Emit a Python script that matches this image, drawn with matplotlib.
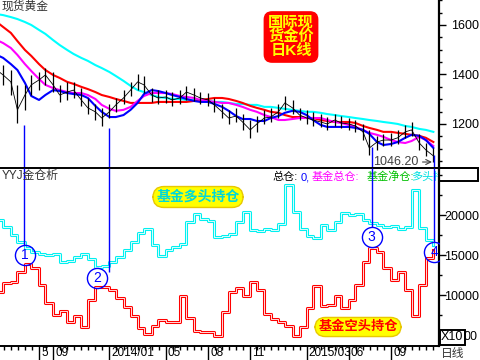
#!/usr/bin/env python

import numpy as np
import pandas as pd
from matplotlib import pyplot as pl
from matplotlib import transforms
from matplotlib.patches import Rectangle

pl.rcParams['font.family'] = ['Liberation Sans', 'Noto Sans CJK SC', 'DejaVu Sans']

W, H = 480, 360

# semi-monthly samples (1st and 15th)
dates = pd.date_range('2013-05-01', '2015-12-01', freq='SMS')

price_close = [1418, 1398, 1370, 1257, 1317, 1358, 1378, 1398, 1358, 1317,
               1329, 1337, 1297, 1265, 1249, 1224, 1249, 1277, 1305, 1337,
               1370, 1358, 1317, 1305, 1309, 1297, 1305, 1329, 1317, 1305,
               1297, 1277, 1249, 1224, 1232, 1208, 1176, 1200, 1224, 1228,
               1249, 1285, 1265, 1236, 1224, 1216, 1208, 1200, 1216, 1204,
               1200, 1192, 1168, 1103, 1127, 1135, 1135, 1144, 1168, 1176,
               1123, 1095, 1071]
price_high = [1448.8, 1438, 1418, 1358, 1358, 1398, 1410, 1426, 1410, 1358,
              1370, 1370, 1345, 1305, 1281, 1265, 1281, 1305, 1337, 1370,
              1402, 1394, 1345, 1337, 1337, 1329, 1337, 1354, 1345, 1329,
              1325, 1305, 1281, 1257, 1265, 1240, 1216, 1232, 1257, 1265,
              1281, 1313, 1297, 1265, 1257, 1249, 1240, 1228, 1240, 1232,
              1224, 1216, 1200, 1176, 1152, 1160, 1164, 1176, 1196, 1208,
              1160, 1123, 1103]
price_low = [1386, 1358, 1317, 1204, 1257, 1317, 1337, 1358, 1329, 1289,
             1297, 1305, 1273, 1240, 1216, 1192, 1224, 1249, 1281, 1313,
             1337, 1325, 1289, 1281, 1285, 1273, 1281, 1297, 1293, 1281,
             1273, 1249, 1224, 1200, 1208, 1176, 1144, 1168, 1200, 1208,
             1224, 1257, 1240, 1216, 1200, 1192, 1188, 1176, 1192, 1184,
             1176, 1168, 1135, 1075, 1095, 1111, 1111, 1119, 1144, 1152,
             1095, 1071, 1046.2]

ma_blue = [1479, 1467, 1442, 1418, 1366, 1313, 1297, 1317, 1337, 1333,
           1325, 1321, 1317, 1305, 1273, 1249, 1228, 1228, 1236, 1257,
           1285, 1321, 1337, 1333, 1325, 1317, 1309, 1301, 1293, 1289,
           1289, 1281, 1269, 1253, 1232, 1220, 1220, 1212, 1212, 1224,
           1232, 1245, 1253, 1249, 1236, 1216, 1196, 1188, 1188, 1188,
           1188, 1184, 1176, 1160, 1127, 1115, 1119, 1127, 1144, 1156,
           1152, 1135, 1103]
ma_magenta = [1539, 1527, 1507, 1479, 1442, 1414, 1382, 1358, 1345, 1337,
              1329, 1325, 1325, 1317, 1301, 1277, 1261, 1253, 1257, 1269,
              1293, 1313, 1325, 1325, 1325, 1321, 1313, 1309, 1305, 1297,
              1293, 1289, 1285, 1285, 1277, 1269, 1257, 1249, 1236, 1228,
              1216, 1216, 1220, 1224, 1224, 1224, 1224, 1216, 1208, 1204,
              1196, 1188, 1176, 1164, 1156, 1148, 1135, 1127, 1123, 1131,
              1148, 1135, 1111]
ma_red = [1612, 1592, 1568, 1535, 1499, 1475, 1442, 1418, 1398, 1386,
          1370, 1362, 1350, 1341, 1329, 1317, 1309, 1301, 1293, 1285,
          1285, 1285, 1285, 1289, 1289, 1289, 1289, 1289, 1293, 1297,
          1301, 1305, 1305, 1301, 1293, 1285, 1273, 1265, 1257, 1249,
          1245, 1236, 1228, 1228, 1224, 1224, 1216, 1212, 1208, 1208,
          1208, 1204, 1192, 1184, 1176, 1168, 1168, 1164, 1160, 1156,
          1152, 1144, 1127]
ma_cyan = [1644, 1640, 1632, 1624, 1612, 1600, 1580, 1564, 1539, 1519,
           1499, 1483, 1467, 1455, 1438, 1426, 1410, 1394, 1374, 1354,
           1337, 1329, 1317, 1309, 1305, 1301, 1301, 1297, 1297, 1293,
           1293, 1289, 1289, 1285, 1281, 1281, 1277, 1277, 1269, 1269,
           1265, 1261, 1257, 1253, 1249, 1249, 1245, 1240, 1236, 1232,
           1228, 1224, 1220, 1216, 1212, 1208, 1204, 1200, 1192, 1188,
           1180, 1176, 1168]

fund_long = [19400, 18500, 17500, 16600, 15900, 15400, 15100, 15000, 15100, 14100,
             14300, 14800, 15100, 14500, 13500, 13600, 14100, 14800, 15600, 16600,
             17800, 18300, 16300, 14900, 15600, 16000, 16400, 19100, 20100, 19500,
             19300, 17300, 17400, 17600, 19100, 20400, 18100, 18000, 18300, 18100,
             18900, 23800, 20400, 18300, 17400, 17100, 18800, 18100, 19100, 20300,
             20000, 20100, 19400, 19000, 18800, 18500, 18600, 18300, 18500, 23100,
             18400, 16900, 16300]
fund_short = [10375, 11500, 11625, 12875, 13875, 13375, 11250, 9000, 7500, 8000,
              6625, 7375, 6000, 9375, 11000, 11000, 10625, 9625, 8500, 7375,
              5875, 5125, 6125, 6875, 6625, 6625, 9875, 7125, 5500, 5375,
              5375, 4875, 7875, 10375, 10875, 9875, 11625, 10625, 7625, 7000,
              6625, 6125, 4875, 6000, 8375, 11125, 8625, 8750, 9875, 8375,
              9375, 11250, 14125, 15875, 15375, 13375, 11875, 12875, 10625, 7375,
              11250, 14625, 15625]

tick_dates = ['2013-08-01', '2013-09-01', '2014-01-01', '2014-05-01', '2014-08-01',
              '2014-11-01', '2015-03-01', '2015-06-01', '2015-09-01']
tick_labels = ['5', '09', '2014/01', '05', '08', '11', '2015/03', '06', '09']

# numbered markers: vertical line from the price low down to a circle
mark_dates = ['2013-06-28', '2013-12-31', '2015-07-20', '2015-12-03']
mark_price = [1196, 1184, 1107, 1075]
mark_line_end = [16250, 12875, 18500, 16625]
circle_dates = ['2013-07-01', '2013-12-04', '2015-07-20', '2015-12-03']
circle_vals = [15000, 12125, 17250, 15375]
circle_labels = ['1', '2', '3', '4']

PRICE_LIM = (1022, 1701)
POS_LIM = (3625, 25875)
X_LIM = (0.23, 31.4)


def months(ds):
    d = pd.DatetimeIndex(pd.to_datetime(ds))
    m = (d.year - 2013) * 12 + d.month - 5 + (d.day - 1) / d.days_in_month
    return np.asarray(m, dtype=float)


def box(x0, y0, x1, y1):
    return [x0 / W, 1 - y1 / H, (x1 - x0) / W, (y1 - y0) / H]


def fpt(x, y):
    return x / W, 1 - y / H


def style_right_axis(ax, majors, minor_step, lim, pad):
    ax.yaxis.tick_right()
    ax.set_yticks(majors)
    ax.set_yticks(np.arange(lim[0] - lim[0] % minor_step + minor_step, lim[1], minor_step), minor=True)
    ax.tick_params(axis='y', which='major', length=5, width=1, pad=pad, labelsize=9)
    ax.tick_params(axis='y', which='minor', length=2, width=1)
    ax.spines['left'].set_visible(False)
    ax.spines['right'].set_linewidth(1.6)


fig = pl.figure(figsize=(4.8, 3.6), dpi=100)
ax_top = fig.add_axes(box(0, 0, 439, 168))
ax_bot = fig.add_axes(box(0, 168, 439, 346), sharex=ax_top)

x = months(dates)

# --- price panel
ax_top.plot(x, ma_cyan, color='#00ffff', lw=1.5, zorder=2)
ax_top.plot(x, ma_red, color='#ff0000', lw=1.5, zorder=2)
ax_top.plot(x, ma_magenta, color='#ff00ff', lw=1.5, zorder=2)
ax_top.plot(x, ma_blue, color='#0000ff', lw=1.5, zorder=2)
ax_top.vlines(x, price_low, price_high, color='black', lw=0.9, zorder=3)
ax_top.plot(x, price_close, color='black', lw=0.6, zorder=3)

ax_top.set_xlim(*X_LIM)
ax_top.set_ylim(*PRICE_LIM)
style_right_axis(ax_top, [1200, 1400, 1600], 50, PRICE_LIM, 4)
ax_top.spines['top'].set_visible(False)
ax_top.spines['bottom'].set_visible(False)
ax_top.tick_params(axis='x', which='both', bottom=False, labelbottom=False)

i_hi = int(np.argmax(price_high))
ax_top.annotate('%.2f' % price_high[i_hi], xy=(x[i_hi], price_high[i_hi]), xytext=(16, -2),
                textcoords='offset pixels', va='center', ha='left', fontsize=9, color='#5a6a88',
                arrowprops=dict(arrowstyle='-', color='#5a6a88', lw=0.8, shrinkA=0, shrinkB=0))
i_lo = int(np.argmin(price_low))
ax_top.annotate('%.2f' % price_low[i_lo], xy=(x[i_lo], price_low[i_lo]), xytext=(-15, 0),
                textcoords='offset pixels', va='center', ha='right', fontsize=9, color='#404040',
                arrowprops=dict(arrowstyle='->', color='#404040', lw=0.8, shrinkA=1, shrinkB=1))

# --- fund position panel
for vals, col in [(fund_long, '#00f0f0'), (fund_short, '#ff0000')]:
    ax_bot.step(x, vals, where='post', color=col, lw=2.2, zorder=2)
    ax_bot.step(x, vals, where='post', color='white', lw=0.6, zorder=2)

ax_bot.set_ylim(*POS_LIM)
style_right_axis(ax_bot, [10000, 15000, 20000], 2500, POS_LIM, -1)
ax_bot.spines['top'].set_linewidth(1.4)
ax_bot.spines['bottom'].set_linewidth(1.4)
ax_bot.set_xticks(months(tick_dates))
ax_bot.set_xticklabels(tick_labels)
ax_bot.set_xticks(np.arange(0.5, X_LIM[1], 0.5), minor=True)
ax_bot.tick_params(axis='x', which='major', length=12, width=1, pad=-11, labelsize=8.5)
ax_bot.tick_params(axis='x', which='minor', length=3, width=1)
shift = transforms.ScaledTranslation(1.5 / 72, 0, fig.dpi_scale_trans)
for lbl in ax_bot.get_xticklabels():
    lbl.set_horizontalalignment('left')
    lbl.set_transform(lbl.get_transform() + shift)

# marker lines and circles
mx = months(mark_dates)
ax_top.vlines(mx, PRICE_LIM[0], mark_price, color='#0000ff', lw=1, zorder=4)
ax_bot.vlines(mx, mark_line_end, POS_LIM[1], color='#0000ff', lw=1, zorder=4)
cx = months(circle_dates)
ax_bot.plot(cx, circle_vals, 'o', ms=14.5, mfc='none', mec='#0000ff', mew=1, zorder=5)
for xx, yy, s in zip(cx, circle_vals, circle_labels):
    ax_bot.text(xx, yy, s, color='#0000ff', fontsize=10, ha='center', va='center', zorder=6)

# --- captions
fig.text(*fpt(2, 1), '现货黄金', fontsize=8.5, color='#333333', va='top', ha='left')
fig.text(*fpt(2, 170), 'YYJ金仓析', fontsize=8.5, color='#333333', va='top', ha='left')

header = [(272, '总仓:', '#000000'), (301, '0,', '#0000ff'), (312, '基金总仓:', '#ff00ff'),
          (367, '基金净仓:', '#00c000'), (411, '多头持仓:', '#00e0e0')]
for hx, s, col in header:
    ax_bot.text(*fpt(hx, 177), s, transform=fig.transFigure, fontsize=8, color=col,
                va='center', ha='left', clip_on=True)

fig.text(*fpt(291, 37), '国际现\n货金价\n日K线', fontsize=11, fontweight='bold', color='#ffff00',
         ha='center', va='center', linespacing=1.0,
         bbox=dict(boxstyle='round,pad=0.25,rounding_size=0.5', fc='#ff0000', ec='#ff0000'))
fig.text(*fpt(198, 197), '基金多头持仓', fontsize=10, fontweight='bold', color='#00d8d8',
         ha='center', va='center',
         bbox=dict(boxstyle='round,pad=0.25,rounding_size=0.8', fc='#ffff00', ec='#e8c800', lw=1))
fig.text(*fpt(358, 327), '基金空头持仓', fontsize=9.5, fontweight='bold', color='#ff0000',
         ha='center', va='center',
         bbox=dict(boxstyle='round,pad=0.25,rounding_size=0.8', fc='#ffff00', ec='#e8c800', lw=1))

# right-hand boxes and separator
fig.add_artist(pl.Line2D([439 / W, 478 / W], [fpt(0, 168)[1]] * 2, color='black', lw=1.4))
fig.add_artist(Rectangle(fpt(439, 181), 39 / W, 13 / H, fill=False, ec='black', lw=1.4))
fig.text(*fpt(441, 337), 'X10', fontsize=9, color='black', va='center', ha='left',
         bbox=dict(boxstyle='square,pad=0.12', fc='white', ec='black', lw=1.4))
fig.text(*fpt(463, 337), '00', fontsize=9, color='black', va='center', ha='left')
fig.text(*fpt(441, 348), '日线', fontsize=8.5, color='#333333', va='top', ha='left')

fig.savefig('out.png', dpi=100)
